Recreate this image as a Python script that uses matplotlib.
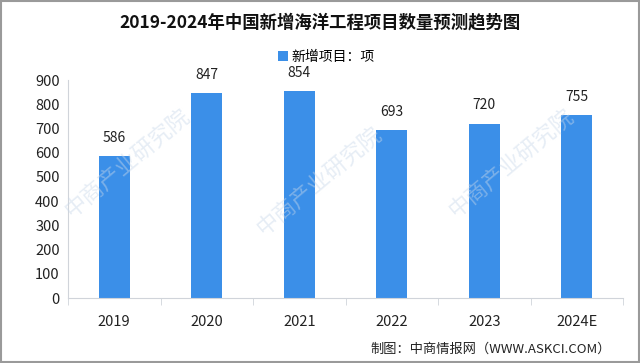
import matplotlib
matplotlib.use('Agg')
import matplotlib.pyplot as plt
from matplotlib.patches import Rectangle

plt.rcParams['font.family'] = ['Noto Sans CJK SC', 'DejaVu Sans']

years = ['2019', '2020', '2021', '2022', '2023', '2024E']
projects = [586, 847, 854, 693, 720, 755]
y_ticks = [0, 100, 200, 300, 400, 500, 600, 700, 800, 900]

bar_color = '#3b8fe8'
axis_color = '#d0d4da'

fig = plt.figure(figsize=(6.4, 3.63), dpi=100)
ax = fig.add_axes([68 / 640, 1 - 298 / 363, 555 / 640, 218 / 363])

x = range(len(years))
bars = ax.bar(x, projects, width=0.33, color=bar_color, label='新增项目：项', zorder=2)
ax.bar_label(bars, padding=8, fontsize=10, color='#222222')

ax.set_xlim(-0.5, len(years) - 0.5)
ax.set_ylim(0, 900)
ax.set_yticks(y_ticks)
ax.set_xticks(list(x))
ax.set_xticklabels(years)
ax.tick_params(axis='y', length=0, labelsize=10.5, colors='#222222', pad=6)
ax.tick_params(axis='x', length=0, labelsize=10.5, colors='#222222', pad=12)

# separators between categories on the x axis
ax.set_xticks([i - 0.5 for i in range(len(years) + 1)], minor=True)
ax.tick_params(axis='x', which='minor', length=5, color=axis_color, direction='out')

for side in ['top', 'right']:
    ax.spines[side].set_visible(False)
ax.spines['left'].set_color(axis_color)
ax.spines['bottom'].set_color(axis_color)

fig.text(0.5, 1 - 22 / 363, '2019-2024年中国新增海洋工程项目数量预测趋势图',
         ha='center', va='center', fontsize=12.5, fontweight='bold', color='#111111')
fig.legend(loc='center', bbox_to_anchor=(0.51, 1 - 57 / 363), frameon=False,
           fontsize=10, handlelength=0.7, handleheight=0.7, handletextpad=0.3)
fig.text(0.955, 1 - 349 / 363, '制图：中商情报网（WWW.ASKCI.COM）',
         ha='right', va='center', fontsize=9.5, color='#222222')

# faint watermarks
for wx, wy in [(0.2, 0.55), (0.5, 0.5), (0.8, 0.55)]:
    fig.text(wx, wy, '中商产业研究院', rotation=40, fontsize=16, color='#c9d8ea',
             alpha=0.45, ha='center', va='center', zorder=0)

# thin frame around the picture
fig.patches.append(Rectangle((0.002, 0.003), 0.996, 0.994, transform=fig.transFigure,
                             fill=False, edgecolor='#9a9a9a', linewidth=1.5))

fig.savefig('out.png', dpi=100)
